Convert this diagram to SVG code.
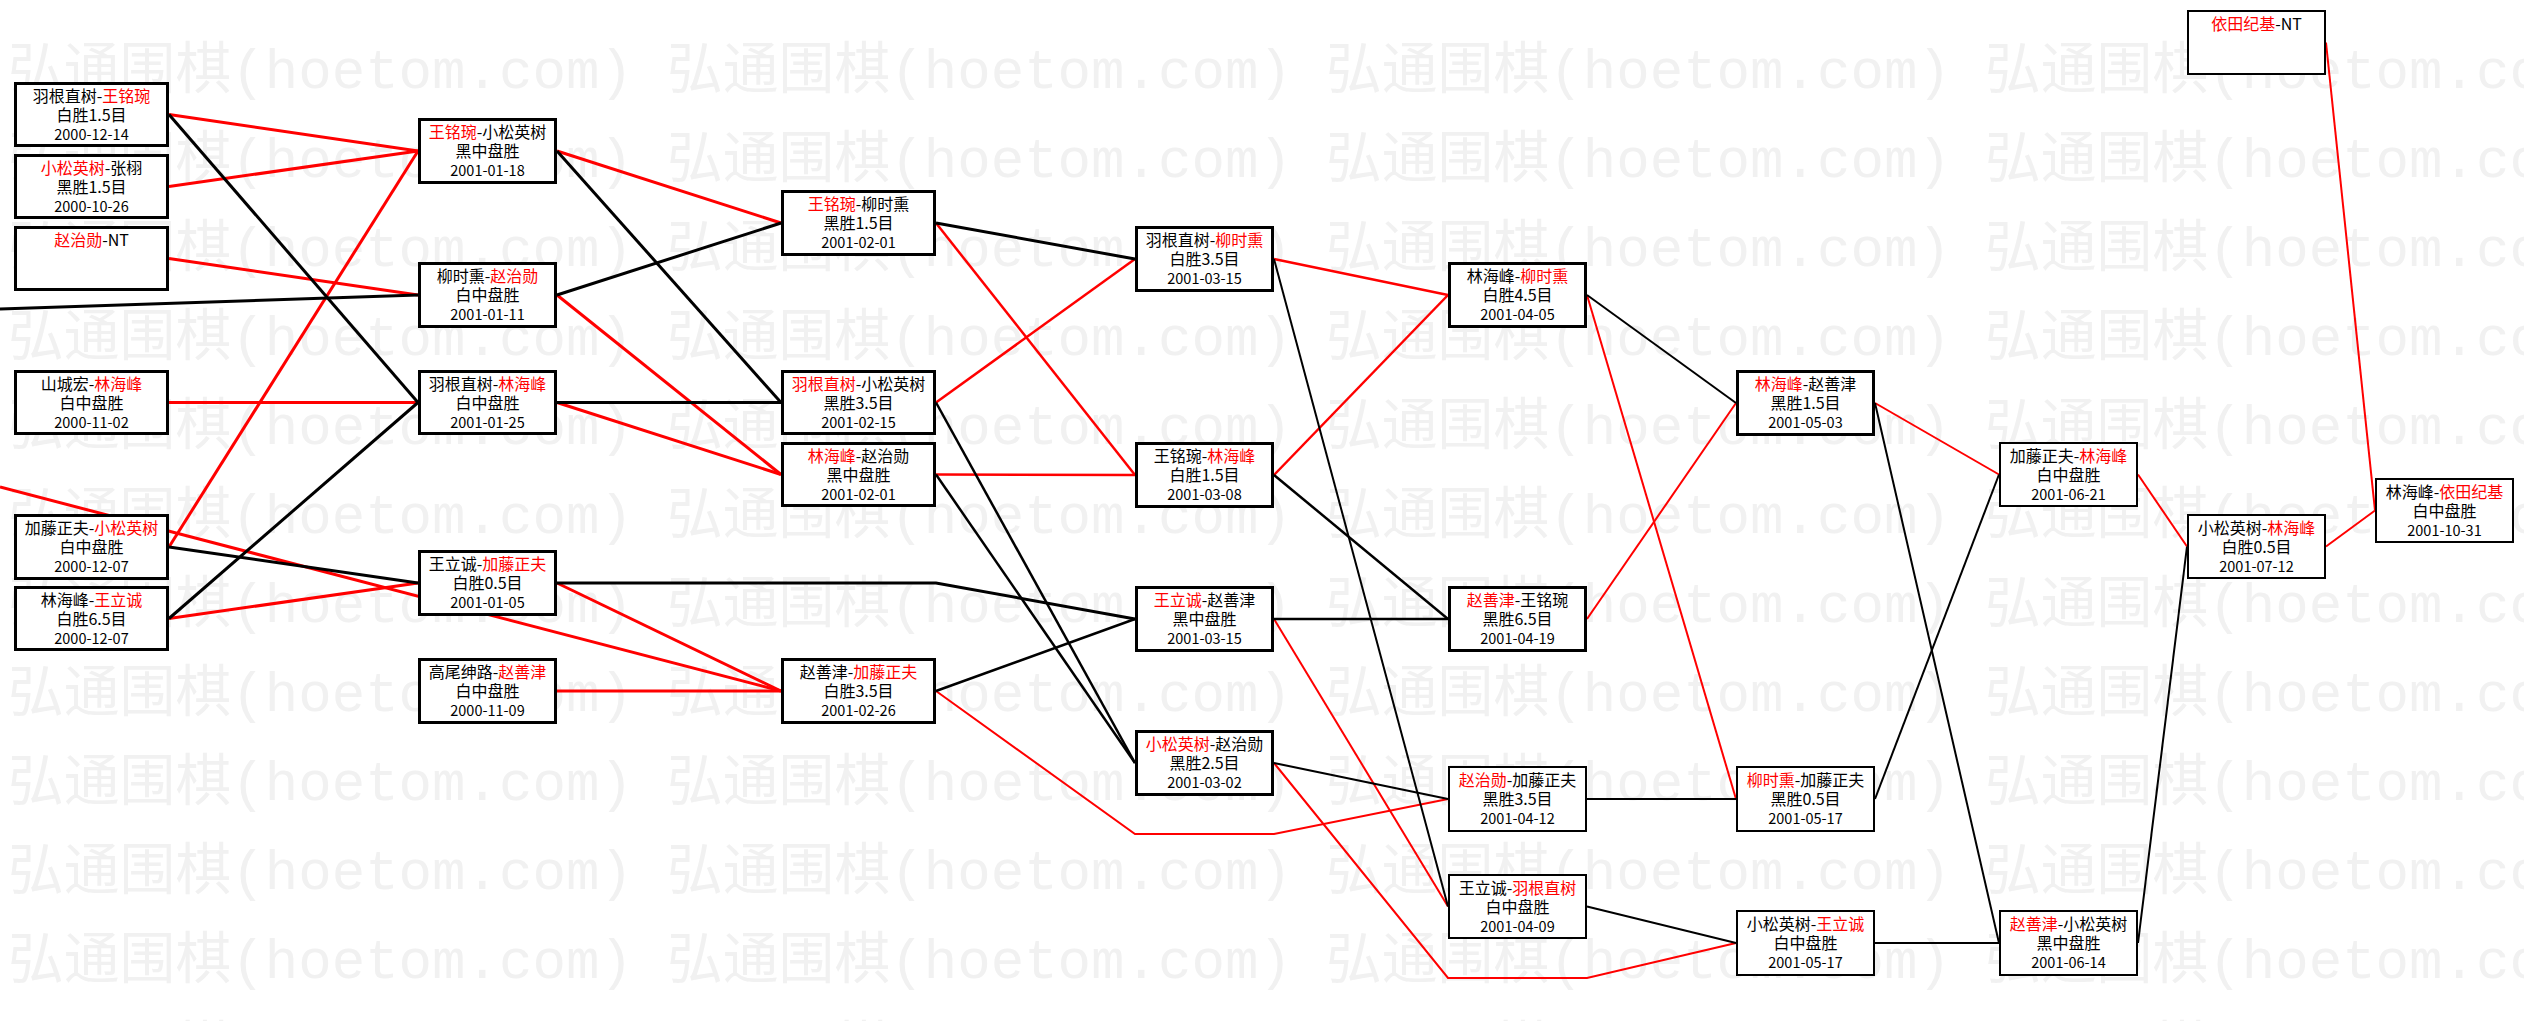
<svg xmlns="http://www.w3.org/2000/svg" width="2524" height="1021" viewBox="0 0 2524 1021">
<style>
.bg{fill:#ffffff}
.wmt{font-family:"Liberation Mono","Noto Sans CJK SC",monospace;font-size:56px;fill:#f1f1f1}
.box{fill:#ffffff;stroke:#000000;stroke-width:3}
.box.thin{stroke-width:2}
.t{font-family:"Noto Sans CJK SC","Noto Sans CJK JP",sans-serif;font-size:16px;fill:#000000;text-anchor:middle}
.d{font-size:14.5px}
.r{fill:#ff0000}
.cr{stroke:#ff0000;fill:none;stroke-linejoin:miter}
.cb{stroke:#000000;fill:none;stroke-linejoin:miter}
.w3{stroke-width:3}
.w25{stroke-width:2.5}
.w2{stroke-width:2}
</style>
<defs>
<pattern id="wm" patternUnits="userSpaceOnUse" x="8" y="30" width="659" height="89">
<text class="wmt" x="0" y="58" textLength="625" lengthAdjust="spacingAndGlyphs">弘通围棋(hoetom.com)</text>
</pattern>
</defs>
<rect class="bg" x="0" y="0" width="2524" height="1021"/>
<rect x="0" y="30" width="2524" height="991" fill="url(#wm)"/>

<g id="connectors">
<line class="cr w3" x1="169" y1="114.5" x2="418" y2="151"/>
<line class="cr w3" x1="169" y1="186.5" x2="418" y2="151"/>
<line class="cr w3" x1="169" y1="258.5" x2="418" y2="295"/>
<line class="cr w3" x1="169" y1="402.5" x2="418" y2="402.5"/>
<line class="cr w3" x1="169" y1="547" x2="418" y2="151"/>
<line class="cr w3" x1="169" y1="618.5" x2="418" y2="583"/>
<line class="cr w3" x1="0" y1="487" x2="781" y2="691"/>
<line class="cr w3" x1="557" y1="151" x2="781" y2="223"/>
<line class="cr w3" x1="557" y1="295" x2="781" y2="474.5"/>
<line class="cr w3" x1="557" y1="402.5" x2="781" y2="474.5"/>
<line class="cr w3" x1="557" y1="583" x2="781" y2="691"/>
<line class="cr w3" x1="557" y1="691" x2="781" y2="691"/>
<line class="cr w25" x1="936" y1="223" x2="1135" y2="475"/>
<line class="cr w25" x1="936" y1="402.5" x2="1135" y2="259"/>
<line class="cr w25" x1="936" y1="474.5" x2="1135" y2="475"/>
<polyline class="cr w2" points="936,691 1135,834 1274,834 1448,799"/>
<line class="cr w25" x1="1274" y1="259" x2="1448" y2="295"/>
<line class="cr w25" x1="1274" y1="475" x2="1448" y2="295"/>
<line class="cr w2" x1="1274" y1="619" x2="1448" y2="906.5"/>
<polyline class="cr w2" points="1274,763 1448,978 1587,978 1736,943"/>
<line class="cr w2" x1="1587" y1="295" x2="1736" y2="799"/>
<line class="cr w2" x1="1587" y1="619" x2="1736" y2="403"/>
<line class="cr w2" x1="1875" y1="403" x2="1999" y2="474.5"/>
<line class="cr w2" x1="2138" y1="474.5" x2="2187" y2="546.5"/>
<line class="cr w2" x1="2326" y1="546.5" x2="2375" y2="510.5"/>
<line class="cr w2" x1="2326" y1="42.5" x2="2375" y2="510.5"/>
<line class="cb w3" x1="169" y1="114.5" x2="418" y2="402.5"/>
<line class="cb w3" x1="0" y1="309" x2="418" y2="295"/>
<line class="cb w3" x1="169" y1="547" x2="418" y2="583"/>
<line class="cb w3" x1="169" y1="618.5" x2="418" y2="402.5"/>
<line class="cb w3" x1="557" y1="151" x2="781" y2="402.5"/>
<line class="cb w3" x1="557" y1="295" x2="781" y2="223"/>
<line class="cb w3" x1="557" y1="402.5" x2="781" y2="402.5"/>
<polyline class="cb w3" points="557,583 936,583 1135,619"/>
<line class="cb w3" x1="936" y1="223" x2="1135" y2="259"/>
<line class="cb w25" x1="936" y1="402.5" x2="1135" y2="763"/>
<line class="cb w25" x1="936" y1="474.5" x2="1135" y2="763"/>
<line class="cb w25" x1="936" y1="691" x2="1135" y2="619"/>
<line class="cb w2" x1="1274" y1="259" x2="1448" y2="906.5"/>
<line class="cb w25" x1="1274" y1="475" x2="1448" y2="619"/>
<line class="cb w25" x1="1274" y1="619" x2="1448" y2="619"/>
<line class="cb w2" x1="1274" y1="763" x2="1448" y2="799"/>
<line class="cb w2" x1="1587" y1="295" x2="1736" y2="403"/>
<line class="cb w2" x1="1587" y1="799" x2="1736" y2="799"/>
<line class="cb w2" x1="1587" y1="906.5" x2="1736" y2="943"/>
<line class="cb w2" x1="1875" y1="403" x2="1999" y2="943"/>
<line class="cb w2" x1="1875" y1="799" x2="1999" y2="474.5"/>
<line class="cb w2" x1="1875" y1="943" x2="1999" y2="943"/>
<line class="cb w2" x1="2138" y1="943" x2="2187" y2="546.5"/>
</g>

<g id="n1"><rect class="box" x="15.5" y="83.5" width="152" height="62"/><text class="t" x="91.5" y="101.5">羽根直树-<tspan class="r">王铭琬</tspan></text><text class="t" x="91.5" y="121">白胜1.5目</text><text class="t d" x="91.5" y="139.5">2000-12-14</text></g>
<g id="n2"><rect class="box" x="15.5" y="155.5" width="152" height="62"/><text class="t" x="91.5" y="173.5"><tspan class="r">小松英树</tspan>-张栩</text><text class="t" x="91.5" y="193">黑胜1.5目</text><text class="t d" x="91.5" y="211.5">2000-10-26</text></g>
<g id="n3"><rect class="box" x="15.5" y="227.5" width="152" height="62"/><text class="t" x="91.5" y="245.5"><tspan class="r">赵治勋</tspan>-NT</text></g>
<g id="n4"><rect class="box" x="15.5" y="371.5" width="152" height="62"/><text class="t" x="91.5" y="389.5">山城宏-<tspan class="r">林海峰</tspan></text><text class="t" x="91.5" y="409">白中盘胜</text><text class="t d" x="91.5" y="427.5">2000-11-02</text></g>
<g id="n8"><rect class="box" x="15.5" y="515.5" width="152" height="63"/><text class="t" x="91.5" y="533.5">加藤正夫-<tspan class="r">小松英树</tspan></text><text class="t" x="91.5" y="553">白中盘胜</text><text class="t d" x="91.5" y="571.5">2000-12-07</text></g>
<g id="n9"><rect class="box" x="15.5" y="587.5" width="152" height="62"/><text class="t" x="91.5" y="605.5">林海峰-<tspan class="r">王立诚</tspan></text><text class="t" x="91.5" y="625">白胜6.5目</text><text class="t d" x="91.5" y="643.5">2000-12-07</text></g>

<g id="n5"><rect class="box" x="419.5" y="119.5" width="136" height="63"/><text class="t" x="487.5" y="137.5"><tspan class="r">王铭琬</tspan>-小松英树</text><text class="t" x="487.5" y="157">黑中盘胜</text><text class="t d" x="487.5" y="175.5">2001-01-18</text></g>
<g id="n6"><rect class="box" x="419.5" y="263.5" width="136" height="63"/><text class="t" x="487.5" y="281.5">柳时熏-<tspan class="r">赵治勋</tspan></text><text class="t" x="487.5" y="301">白中盘胜</text><text class="t d" x="487.5" y="319.5">2001-01-11</text></g>
<g id="n7"><rect class="box" x="419.5" y="371.5" width="136" height="62"/><text class="t" x="487.5" y="389.5">羽根直树-<tspan class="r">林海峰</tspan></text><text class="t" x="487.5" y="409">白中盘胜</text><text class="t d" x="487.5" y="427.5">2001-01-25</text></g>
<g id="n10"><rect class="box" x="419.5" y="551.5" width="136" height="63"/><text class="t" x="487.5" y="569.5">王立诚-<tspan class="r">加藤正夫</tspan></text><text class="t" x="487.5" y="589">白胜0.5目</text><text class="t d" x="487.5" y="607.5">2001-01-05</text></g>
<g id="n11"><rect class="box" x="419.5" y="659.5" width="136" height="63"/><text class="t" x="487.5" y="677.5">高尾绅路-<tspan class="r">赵善津</tspan></text><text class="t" x="487.5" y="697">白中盘胜</text><text class="t d" x="487.5" y="715.5">2000-11-09</text></g>

<g id="n12"><rect class="box" x="782.5" y="191.5" width="152" height="63"/><text class="t" x="858.5" y="209.5"><tspan class="r">王铭琬</tspan>-柳时熏</text><text class="t" x="858.5" y="229">黑胜1.5目</text><text class="t d" x="858.5" y="247.5">2001-02-01</text></g>
<g id="n13"><rect class="box" x="782.5" y="371.5" width="152" height="62"/><text class="t" x="858.5" y="389.5"><tspan class="r">羽根直树</tspan>-小松英树</text><text class="t" x="858.5" y="409">黑胜3.5目</text><text class="t d" x="858.5" y="427.5">2001-02-15</text></g>
<g id="n14"><rect class="box" x="782.5" y="443.5" width="152" height="62"/><text class="t" x="858.5" y="461.5"><tspan class="r">林海峰</tspan>-赵治勋</text><text class="t" x="858.5" y="481">黑中盘胜</text><text class="t d" x="858.5" y="499.5">2001-02-01</text></g>
<g id="n15"><rect class="box" x="782.5" y="659.5" width="152" height="63"/><text class="t" x="858.5" y="677.5">赵善津-<tspan class="r">加藤正夫</tspan></text><text class="t" x="858.5" y="697">白胜3.5目</text><text class="t d" x="858.5" y="715.5">2001-02-26</text></g>

<g id="n16"><rect class="box" x="1136.5" y="227.5" width="136" height="63"/><text class="t" x="1204.5" y="245.5">羽根直树-<tspan class="r">柳时熏</tspan></text><text class="t" x="1204.5" y="265">白胜3.5目</text><text class="t d" x="1204.5" y="283.5">2001-03-15</text></g>
<g id="n17"><rect class="box" x="1136.5" y="443.5" width="136" height="63"/><text class="t" x="1204.5" y="461.5">王铭琬-<tspan class="r">林海峰</tspan></text><text class="t" x="1204.5" y="481">白胜1.5目</text><text class="t d" x="1204.5" y="499.5">2001-03-08</text></g>
<g id="n19"><rect class="box" x="1136.5" y="587.5" width="136" height="63"/><text class="t" x="1204.5" y="605.5"><tspan class="r">王立诚</tspan>-赵善津</text><text class="t" x="1204.5" y="625">黑中盘胜</text><text class="t d" x="1204.5" y="643.5">2001-03-15</text></g>
<g id="n20"><rect class="box" x="1136.5" y="731.5" width="136" height="63"/><text class="t" x="1204.5" y="749.5"><tspan class="r">小松英树</tspan>-赵治勋</text><text class="t" x="1204.5" y="769">黑胜2.5目</text><text class="t d" x="1204.5" y="787.5">2001-03-02</text></g>

<g id="n18"><rect class="box" x="1449.5" y="263.5" width="136" height="63"/><text class="t" x="1517.5" y="281.5">林海峰-<tspan class="r">柳时熏</tspan></text><text class="t" x="1517.5" y="301">白胜4.5目</text><text class="t d" x="1517.5" y="319.5">2001-04-05</text></g>
<g id="n21"><rect class="box" x="1449.5" y="587.5" width="136" height="63"/><text class="t" x="1517.5" y="605.5"><tspan class="r">赵善津</tspan>-王铭琬</text><text class="t" x="1517.5" y="625">黑胜6.5目</text><text class="t d" x="1517.5" y="643.5">2001-04-19</text></g>
<g id="n22"><rect class="box thin" x="1449" y="767" width="137" height="64"/><text class="t" x="1517.5" y="785.5"><tspan class="r">赵治勋</tspan>-加藤正夫</text><text class="t" x="1517.5" y="805">黑胜3.5目</text><text class="t d" x="1517.5" y="823.5">2001-04-12</text></g>
<g id="n23"><rect class="box thin" x="1449" y="875" width="137" height="63"/><text class="t" x="1517.5" y="893.5">王立诚-<tspan class="r">羽根直树</tspan></text><text class="t" x="1517.5" y="913">白中盘胜</text><text class="t d" x="1517.5" y="931.5">2001-04-09</text></g>

<g id="n24"><rect class="box" x="1737.5" y="371.5" width="136" height="63"/><text class="t" x="1805.5" y="389.5"><tspan class="r">林海峰</tspan>-赵善津</text><text class="t" x="1805.5" y="409">黑胜1.5目</text><text class="t d" x="1805.5" y="427.5">2001-05-03</text></g>
<g id="n25"><rect class="box thin" x="1737" y="767" width="137" height="64"/><text class="t" x="1805.5" y="785.5"><tspan class="r">柳时熏</tspan>-加藤正夫</text><text class="t" x="1805.5" y="805">黑胜0.5目</text><text class="t d" x="1805.5" y="823.5">2001-05-17</text></g>
<g id="n26"><rect class="box thin" x="1737" y="911" width="137" height="64"/><text class="t" x="1805.5" y="929.5">小松英树-<tspan class="r">王立诚</tspan></text><text class="t" x="1805.5" y="949">白中盘胜</text><text class="t d" x="1805.5" y="967.5">2001-05-17</text></g>

<g id="n27"><rect class="box thin" x="2000" y="443" width="137" height="63"/><text class="t" x="2068.5" y="461.5">加藤正夫-<tspan class="r">林海峰</tspan></text><text class="t" x="2068.5" y="481">白中盘胜</text><text class="t d" x="2068.5" y="499.5">2001-06-21</text></g>
<g id="n31"><rect class="box thin" x="2000" y="911" width="137" height="64"/><text class="t" x="2068.5" y="929.5"><tspan class="r">赵善津</tspan>-小松英树</text><text class="t" x="2068.5" y="949">黑中盘胜</text><text class="t d" x="2068.5" y="967.5">2001-06-14</text></g>

<g id="n28"><rect class="box thin" x="2188" y="11" width="137" height="63"/><text class="t" x="2256.5" y="29.5"><tspan class="r">依田纪基</tspan>-NT</text></g>
<g id="n29"><rect class="box thin" x="2188" y="515" width="137" height="63"/><text class="t" x="2256.5" y="533.5">小松英树-<tspan class="r">林海峰</tspan></text><text class="t" x="2256.5" y="553">白胜0.5目</text><text class="t d" x="2256.5" y="571.5">2001-07-12</text></g>

<g id="n30"><rect class="box thin" x="2376" y="479" width="137" height="63"/><text class="t" x="2444.5" y="497.5">林海峰-<tspan class="r">依田纪基</tspan></text><text class="t" x="2444.5" y="517">白中盘胜</text><text class="t d" x="2444.5" y="535.5">2001-10-31</text></g>
</svg>
